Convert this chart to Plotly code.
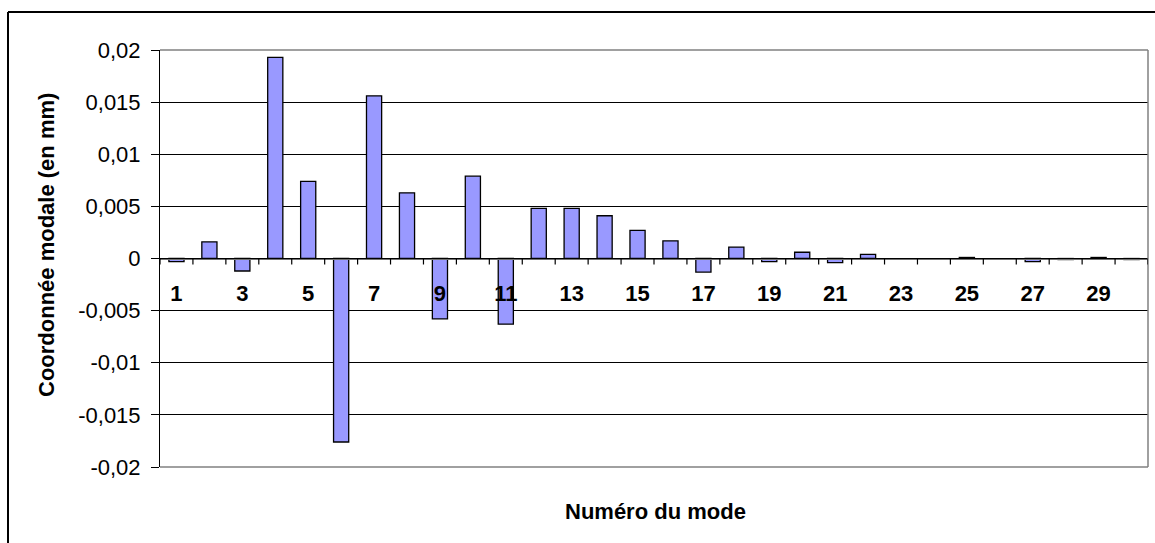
import plotly.graph_objects as go

# Modal coordinate for each mode number (mm)
modes = list(range(1, 31))
coords = [-0.0003, 0.0016, -0.0012, 0.0193, 0.0074, -0.0176, 0.0156, 0.0063,
          -0.0058, 0.0079, -0.0063, 0.0048, 0.0048, 0.0041, 0.0027, 0.0017,
          -0.0013, 0.0011, -0.0003, 0.0006, -0.0004, 0.0004, 0.0, 0.0,
          0.0001, 0.0, -0.0003, -0.0001, 0.0001, -0.0001]

y_ticks = [-0.02, -0.015, -0.01, -0.005, 0, 0.005, 0.01, 0.015, 0.02]
y_labels = ["-0,02", "-0,015", "-0,01", "-0,005", "0", "0,005", "0,01", "0,015", "0,02"]
x_label_modes = list(range(1, 31, 2))

W, H = 1155, 543
L, R, T, B = 160, 7, 50, 76
pw, ph = W - L - R, H - T - B


def px(x):
    return (x - L) / pw


def py(y):
    return (H - B - y) / ph


FONT = "Liberation Sans, Arial, sans-serif"

fig = go.Figure(go.Bar(
    x=modes, y=coords, width=0.46,
    marker=dict(color="#9999FF",
                line=dict(color="black",
                          width=[0 if v == 0 else 1.3 for v in coords])),
))

x_range = [0.5, 30.5]
boundaries = [m + 0.5 for m in range(0, 31)]
tick_len = 6 / ph  # tick length in paper units

# tick marks on category boundaries, hanging below the zero axis
tick_shapes = [
    dict(type="line", xref="x", yref="paper", x0=b, x1=b,
         y0=0.5, y1=0.5 - tick_len, line=dict(color="black", width=1.2),
         layer="above")
    for b in boundaries
]

fig.update_layout(
    width=W, height=H,
    margin=dict(l=L, r=R, t=T, b=B),
    paper_bgcolor="white", plot_bgcolor="white",
    showlegend=False,
    font=dict(family=FONT, color="black"),
    # horizontal axis crossing at zero
    xaxis=dict(
        range=x_range,
        anchor="free", position=0.5,
        showline=True, linecolor="#707070", linewidth=1,
        showgrid=False, zeroline=False,
        showticklabels=False, ticks="",
    ),
    # labels for every other mode number
    xaxis2=dict(
        range=x_range,
        overlaying="x", anchor="free", position=0.5, side="bottom",
        showline=False, showgrid=False, zeroline=False,
        tickmode="array", tickvals=x_label_modes,
        ticktext=[str(m) for m in x_label_modes],
        ticks="",
        tickfont=dict(size=22, weight="bold", family=FONT),
        ticklabelstandoff=19,
    ),
    yaxis=dict(
        range=[-0.02, 0.02],
        tickmode="array", tickvals=y_ticks, ticktext=y_labels,
        showline=True, linecolor="black", linewidth=1,
        ticks="outside", ticklen=8, tickcolor="black",
        showgrid=True, gridcolor="black", gridwidth=1,
        zeroline=False,
        tickfont=dict(size=22, family=FONT),
        ticklabelstandoff=6,
    ),
    shapes=[
        # plot-area frame (top, right, bottom)
        dict(type="line", xref="paper", yref="paper", x0=0, x1=1, y0=1, y1=1,
             line=dict(color="#808080", width=1.5), layer="above"),
        dict(type="line", xref="paper", yref="paper", x0=1, x1=1, y0=0, y1=1,
             line=dict(color="#808080", width=1.5), layer="above"),
        dict(type="line", xref="paper", yref="paper", x0=0, x1=1, y0=0, y1=0,
             line=dict(color="#808080", width=1.5), layer="above"),
        # chart-area border
        dict(type="line", xref="paper", yref="paper", x0=px(8), x1=px(W + 5),
             y0=py(12), y1=py(12), line=dict(color="black", width=2)),
        dict(type="line", xref="paper", yref="paper", x0=px(8), x1=px(8),
             y0=py(12), y1=py(H + 5), line=dict(color="black", width=2)),
    ] + tick_shapes,
    annotations=[
        dict(text="Coordonnée modale (en mm)", xref="paper", yref="paper",
             x=px(46), y=py(245), textangle=-90, showarrow=False,
             xanchor="center", yanchor="middle",
             font=dict(size=22, weight="bold", family=FONT)),
        dict(text="Numéro du mode", xref="paper", yref="paper",
             x=px(655), y=py(511), showarrow=False,
             xanchor="center", yanchor="middle",
             font=dict(size=22, weight="bold", family=FONT)),
    ],
)

# invisible trace so the label axis is drawn
fig.add_trace(go.Scatter(x=[x_range[0]], y=[0], xaxis="x2", mode="markers",
                         marker=dict(opacity=0), hoverinfo="skip",
                         showlegend=False))

fig.write_html("out.html")
